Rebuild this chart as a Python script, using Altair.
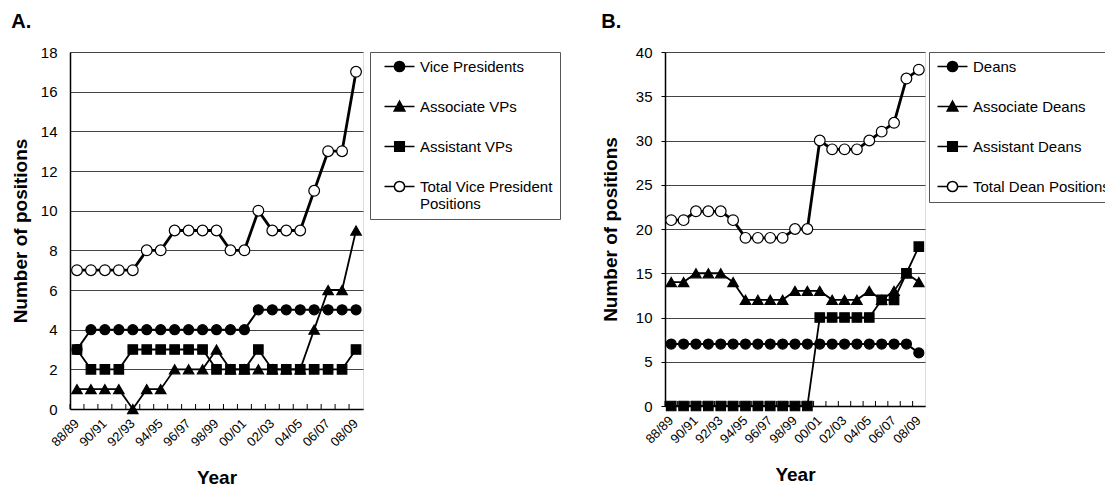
import altair as alt
import pandas as pd

FONT = "Liberation Sans"

years = ["88/89", "89/90", "90/91", "91/92", "92/93", "93/94", "94/95", "95/96",
         "96/97", "97/98", "98/99", "99/00", "00/01", "01/02", "02/03", "03/04",
         "04/05", "05/06", "06/07", "07/08", "08/09"]
shown_labels = ["88/89", "90/91", "92/93", "94/95", "96/97", "98/99", "00/01",
                "02/03", "04/05", "06/07", "08/09"]

# Panel A
a_names = ["Vice Presidents", "Associate VPs", "Assistant VPs",
           "Total Vice President Positions"]
a_vp = [3, 4, 4, 4, 4, 4, 4, 4, 4, 4, 4, 4, 4, 5, 5, 5, 5, 5, 5, 5, 5]
a_assoc = [1, 1, 1, 1, 0, 1, 1, 2, 2, 2, 3, 2, 2, 2, 2, 2, 2, 4, 6, 6, 9]
a_assist = [3, 2, 2, 2, 3, 3, 3, 3, 3, 3, 2, 2, 2, 3, 2, 2, 2, 2, 2, 2, 3]
a_total = [7, 7, 7, 7, 7, 8, 8, 9, 9, 9, 9, 8, 8, 10, 9, 9, 9, 11, 13, 13, 17]

# Panel B
b_names = ["Deans", "Associate Deans", "Assistant Deans", "Total Dean Positions"]
b_deans = [7, 7, 7, 7, 7, 7, 7, 7, 7, 7, 7, 7, 7, 7, 7, 7, 7, 7, 7, 7, 6]
b_assoc = [14, 14, 15, 15, 15, 14, 12, 12, 12, 12, 13, 13, 13, 12, 12, 12, 13, 12, 13, 15, 14]
b_assist = [0, 0, 0, 0, 0, 0, 0, 0, 0, 0, 0, 0, 10, 10, 10, 10, 10, 12, 12, 15, 18]
b_total = [21, 21, 22, 22, 22, 21, 19, 19, 19, 19, 20, 20, 30, 29, 29, 29, 30, 31, 32, 37, 38]


def fmt(v):
    return f"{v:.2f}".rstrip("0").rstrip(".")


def legend_paths(s):
    """Legend symbols: a line segment with a marker, shifted s units right."""
    def circ(cx, r):
        return (f"M{fmt(cx - r)},0A{fmt(r)},{fmt(r)} 0 1,0 {fmt(cx + r)},0"
                f"A{fmt(r)},{fmt(r)} 0 1,0 {fmt(cx - r)},0Z")
    x0, x1, c = -1 + s, 4 + s, 1.5 + s
    line = f"M{fmt(x0)},0H{fmt(x1)}"
    return [
        line + circ(c, 0.85),
        line + f"M{fmt(c - 0.9)},0.75L{fmt(c)},-0.9L{fmt(c + 0.9)},0.75Z",
        line + f"M{fmt(c - 0.8)},-0.8H{fmt(c + 0.8)}V0.8H{fmt(c - 0.8)}Z",
        f"M{fmt(x0)},0H{fmt(c - 0.85)}M{fmt(c + 0.85)},0H{fmt(x1)}" + circ(c, 0.85),
    ]


legend_fills = ["black", "black", "black", "white"]

marker_styles = [
    dict(shape="circle", fill="black", size=100, width=2.0),
    dict(shape="triangle-up", fill="black", size=110, width=1.8),
    dict(shape="square", fill="black", size=90, width=1.8),
    dict(shape="circle", fill="white", size=115, width=2.8),
]


def make_panel(label, names, series, ymax, ystep, width, height, tick_len,
               y_ticks, y_label_pad, y_title_pad, legend_offset, legend_pad,
               shift, label_expr=None):
    rows = []
    for n, vals in zip(names, series):
        for yr, v in zip(years, vals):
            rows.append({"series": n, "year": yr, "value": v})
    df = pd.DataFrame(rows)
    tick_df = pd.DataFrame({"year": years, "zero": 0, "tk": tick_len})

    lab_list = ",".join(f"'{s}'" for s in shown_labels)
    x_axis = alt.Axis(
        title="Year", titleFontSize=19, titleFontWeight="bold", titleColor="black",
        titlePadding=20, labelAngle=-45, labelAlign="right", labelBaseline="middle",
        labelFontSize=13, labelColor="black", labelPadding=12, labelOverlap=False,
        labelExpr=f"indexof([{lab_list}], datum.label) >= 0 ? datum.label : ''",
        ticks=False, domain=True, domainColor="black", domainWidth=1.5, grid=False,
    )
    x_scale = alt.Scale(type="band", domain=years, paddingInner=0, paddingOuter=0)
    y_axis_kw = dict(
        title="Number of positions", titleFontSize=19, titleFontWeight="bold",
        titleColor="black", titlePadding=y_title_pad,
        values=list(range(0, ymax + 1, ystep)), labelFontSize=15, labelColor="black",
        labelPadding=y_label_pad, grid=True, gridColor="#444", gridWidth=1,
        domain=True, domainColor="black", domainWidth=1.5,
    )
    if y_ticks:
        y_axis_kw.update(ticks=True, tickSize=4, tickColor="black")
    else:
        y_axis_kw.update(ticks=False)
    y_axis = alt.Axis(**y_axis_kw)
    y_scale = alt.Scale(domain=[0, ymax], nice=False, zero=True)

    xenc = alt.X("year:N", scale=x_scale, axis=x_axis, sort=years)
    yenc = alt.Y("value:Q", scale=y_scale, axis=y_axis)

    legend_kw = dict(
        title=None, orient="right", offset=legend_offset, padding=legend_pad,
        strokeColor="#555", fillColor="white", symbolSize=144,
        symbolStrokeColor="black", symbolStrokeWidth=1.5, symbolOpacity=1,
        labelFontSize=15, labelFont=FONT, labelColor="black",
        labelOffset=22 + int(round(shift * 6)),
        rowPadding=23, labelLimit=400, labelBaseline="middle",
    )
    if label_expr:
        legend_kw["labelExpr"] = label_expr
    leg = alt.Legend(**legend_kw)

    legend_layer = alt.Chart(df).mark_point(opacity=0, strokeWidth=1.5).encode(
        x=xenc, y=yenc,
        shape=alt.Shape("series:N", scale=alt.Scale(domain=names, range=legend_paths(shift)),
                        legend=leg),
        fill=alt.Fill("series:N", scale=alt.Scale(domain=names, range=legend_fills), legend=leg),
        stroke=alt.Stroke("series:N", scale=alt.Scale(domain=names, range=["black"] * 4),
                          legend=leg),
    )

    tick_layer = alt.Chart(tick_df).mark_rule(color="black", strokeWidth=1).encode(
        x=alt.X("year:N", scale=x_scale, axis=x_axis, sort=years, bandPosition=0),
        y=alt.Y("zero:Q", scale=y_scale, axis=y_axis),
        y2="tk:Q",
    )

    layers = [legend_layer, tick_layer]
    for idx in [2, 1, 0, 3]:
        st = marker_styles[idx]
        sub = df[df["series"] == names[idx]]
        layers.append(
            alt.Chart(sub).mark_line(
                color="black", strokeWidth=st["width"],
                point=alt.OverlayMarkDef(shape=st["shape"], filled=True, fill=st["fill"],
                                         stroke="black", strokeWidth=1.2, size=st["size"],
                                         opacity=1),
            ).encode(x=xenc, y=yenc)
        )

    return alt.layer(*layers).properties(
        width=width, height=height,
        title=alt.TitleParams(label, anchor="start", fontSize=20, fontWeight="bold",
                              color="black", frame="bounds", offset=13),
    )


panel_a = make_panel(
    "A.", a_names, [a_vp, a_assoc, a_assist, a_total], 18, 2, 293, 357, 0.25,
    y_ticks=False, y_label_pad=13, y_title_pad=10, legend_offset=7, legend_pad=7,
    shift=1.0,
    label_expr="datum.label == 'Total Vice President Positions' ? "
               "['Total Vice President', 'Positions'] : datum.label",
)
panel_b = make_panel(
    "B.", b_names, [b_deans, b_assoc, b_assist, b_total], 40, 5, 260, 354, 0.57,
    y_ticks=True, y_label_pad=9, y_title_pad=15, legend_offset=4, legend_pad=7,
    shift=0,
)

chart = alt.hconcat(panel_a, panel_b, spacing=39).resolve_scale(
    shape="independent", fill="independent", stroke="independent",
    x="independent", y="independent"
).resolve_legend(shape="independent", fill="independent", stroke="independent").properties(
    autosize=alt.AutoSizeParams(type="none"),
    padding={"left": 70, "top": 52, "right": 1035, "bottom": 435},
).configure_view(stroke="black", strokeWidth=1.5).configure(font=FONT)

chart.save("out.html", embed_options={"renderer": "svg", "actions": False})
